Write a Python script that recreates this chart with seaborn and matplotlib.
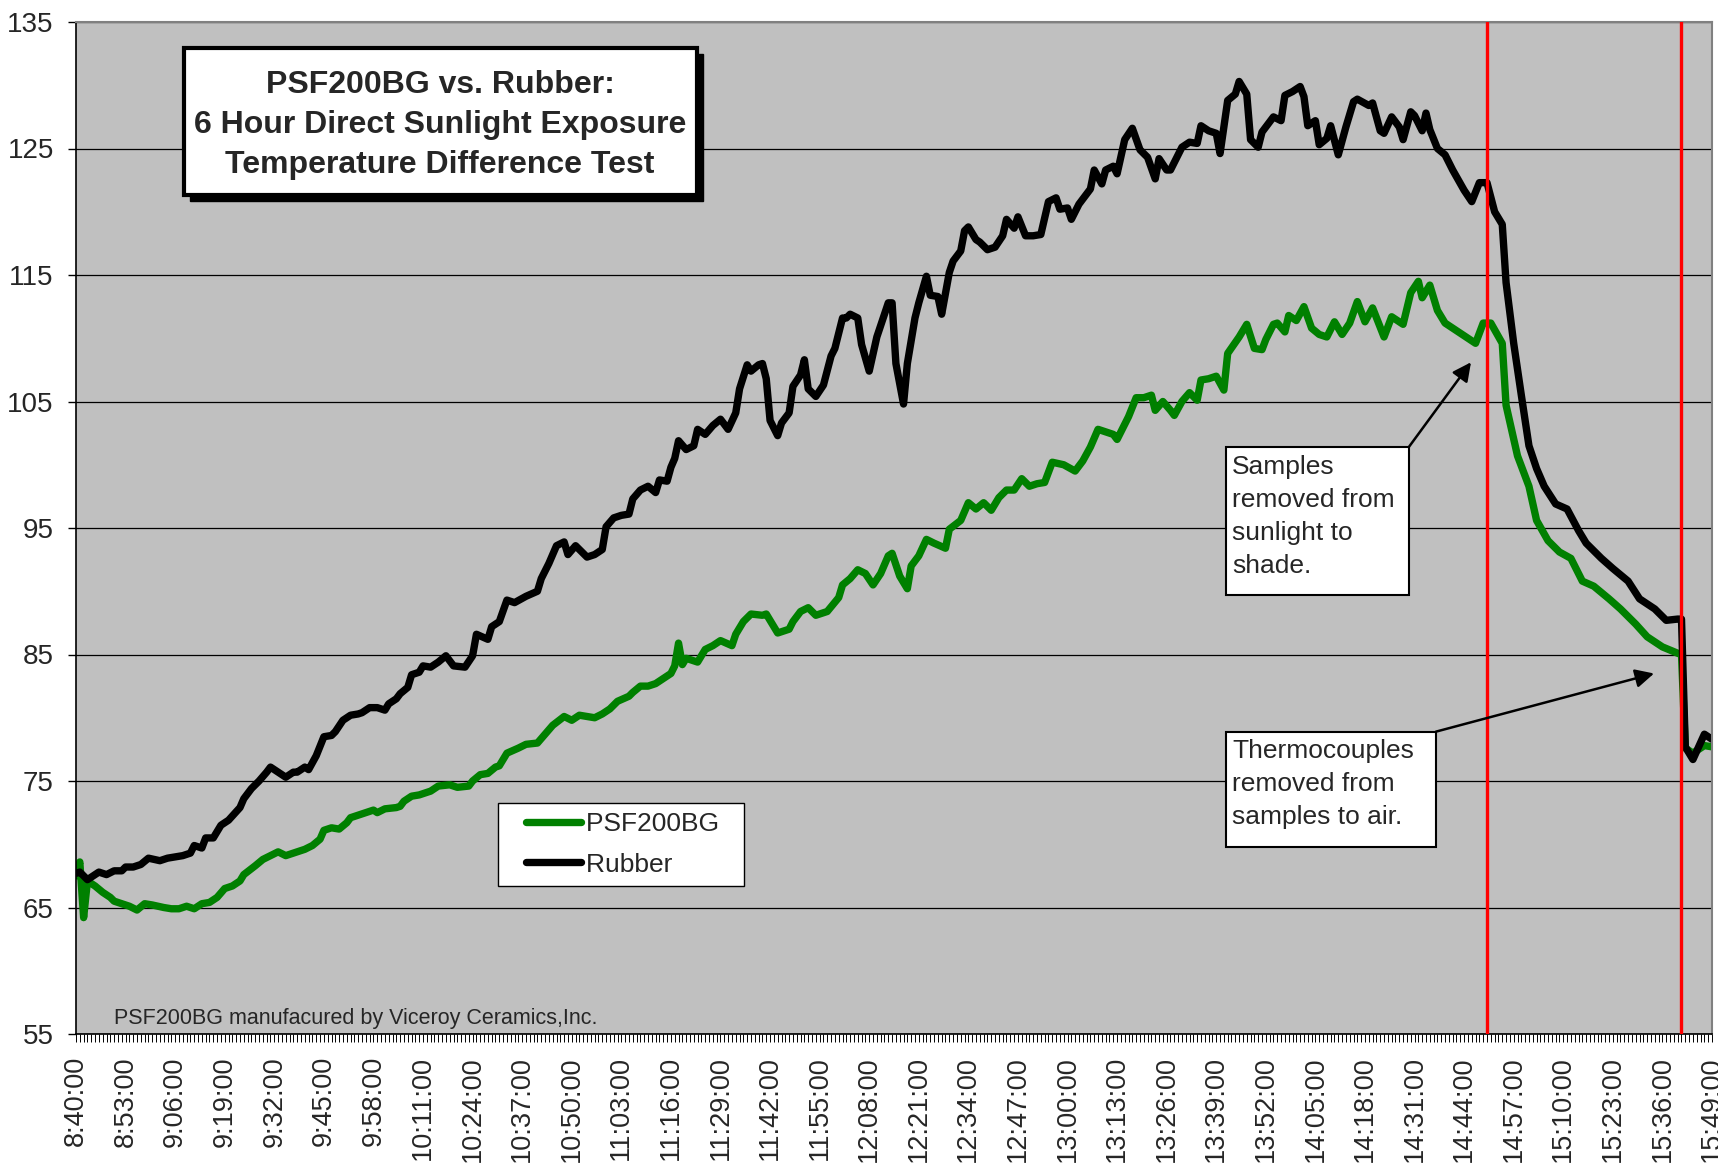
import matplotlib
matplotlib.use('Agg')
import matplotlib.pyplot as plt
from matplotlib.patches import Rectangle
from matplotlib.lines import Line2D
from matplotlib.ticker import MultipleLocator
from matplotlib.legend_handler import HandlerLine2D
import pandas as pd
import seaborn as sns

# readings, minutes after 8:40 -> temperature
rubber_min = [0, 1, 3, 5, 6, 8, 10, 12, 13, 15, 17, 19, 22, 24, 26, 28, 30, 31, 33, 34,
              36, 38, 40, 43, 44, 46, 48, 50, 51, 53, 55, 57, 58, 60, 61, 63, 65, 67, 68, 70,
              72, 74, 75, 77, 79, 81, 82, 84, 85, 87, 88, 90, 91, 93, 95, 97, 99, 102, 104, 105,
              108, 109, 111, 113, 115, 118, 121, 122, 124, 126, 128, 129, 131, 133, 134, 136, 138, 139, 141, 143,
              145, 146, 148, 150, 152, 153, 155, 156, 157, 158, 160, 162, 163, 165, 167, 169, 171, 173, 174, 176,
              177, 179, 180, 181, 182, 184, 185, 187, 188, 190, 191, 192, 194, 196, 198, 199, 201, 202, 203, 205,
              206, 208, 210, 212, 213, 214, 215, 217, 218, 220, 221, 223, 224, 226, 227, 229, 230, 232, 233, 234,
              236, 237, 239, 241, 243, 244, 246, 247, 249, 251, 253, 255, 257, 258, 260, 261, 263, 265, 266, 267,
              269, 270, 272, 273, 275, 277, 279, 281, 283, 284, 286, 287, 290, 292, 294, 295, 297, 299, 300, 301,
              302, 304, 305, 307, 308, 310, 311, 314, 316, 317, 319, 321, 322, 323, 325, 326, 328, 329, 331, 333,
              335, 336, 339, 340, 342, 343, 345, 347, 348, 350, 351, 353, 354, 355, 357, 359, 361, 364, 366, 368,
              370, 372, 374, 375, 377, 379, 381, 383, 385, 388, 391, 394, 396, 400, 403, 407, 410, 414, 417, 420,
              421, 422, 424, 427, 429]
rubber_temp = [67.7, 67.8, 67.2, 67.6, 67.8, 67.6, 67.9, 67.9, 68.2, 68.2, 68.4, 68.9, 68.7, 68.9, 69.0, 69.1, 69.3, 69.9, 69.7, 70.5,
               70.5, 71.5, 71.9, 72.9, 73.6, 74.4, 75.0, 75.7, 76.1, 75.7, 75.3, 75.7, 75.7, 76.1, 75.9, 77.0, 78.5, 78.6, 78.9, 79.8,
               80.2, 80.3, 80.4, 80.8, 80.8, 80.6, 81.1, 81.5, 81.9, 82.4, 83.4, 83.6, 84.1, 84.0, 84.4, 84.9, 84.1, 84.0, 84.9, 86.6,
               86.2, 87.2, 87.6, 89.3, 89.1, 89.6, 90.0, 91.0, 92.2, 93.6, 93.9, 92.9, 93.6, 93.0, 92.7, 92.9, 93.3, 95.1, 95.8, 96.0,
               96.1, 97.3, 98.0, 98.3, 97.8, 98.8, 98.7, 99.8, 100.5, 101.9, 101.2, 101.5, 102.8, 102.4, 103.1, 103.6, 102.8, 104.1, 106.0, 107.9,
               107.4, 107.9, 108.0, 106.8, 103.5, 102.3, 103.3, 104.1, 106.2, 107.1, 108.3, 106.0, 105.4, 106.3, 108.6, 109.2, 111.6, 111.6, 111.9, 111.6,
               109.5, 107.4, 110.1, 111.9, 112.8, 112.8, 108.0, 104.8, 108.0, 111.6, 112.8, 114.9, 113.4, 113.3, 111.9, 115.2, 116.1, 116.9, 118.5, 118.8,
               117.8, 117.6, 117.0, 117.2, 118.1, 119.4, 118.7, 119.6, 118.1, 118.1, 118.2, 120.8, 121.1, 120.2, 120.3, 119.4, 120.6, 121.4, 121.8, 123.3,
               122.2, 123.3, 123.6, 123.0, 125.7, 126.6, 124.9, 124.3, 122.6, 124.2, 123.3, 123.3, 125.1, 125.5, 125.4, 126.8, 126.4, 126.2, 124.6, 126.7,
               128.8, 129.3, 130.3, 129.3, 125.7, 125.1, 126.3, 127.5, 127.2, 129.2, 129.5, 129.9, 129.1, 126.8, 127.2, 125.3, 125.8, 126.8, 124.5, 126.7,
               128.7, 128.9, 128.4, 128.6, 126.4, 126.2, 127.5, 126.7, 125.7, 127.9, 127.6, 126.4, 127.8, 126.5, 125.0, 124.5, 123.3, 121.7, 120.8, 122.3,
               122.3, 120.0, 119.0, 114.4, 109.6, 105.5, 101.5, 99.7, 98.3, 96.9, 96.5, 94.8, 93.8, 92.6, 91.8, 90.8, 89.4, 88.6, 87.7, 87.8,
               87.8, 77.7, 76.7, 78.7, 78.3]

psf_min = [0, 1, 2, 3, 5, 7, 9, 10, 12, 14, 16, 18, 20, 23, 25, 27, 29, 31, 33, 35,
           37, 39, 41, 43, 44, 47, 49, 51, 53, 55, 58, 60, 62, 64, 65, 67, 69, 71, 72, 75,
           78, 79, 81, 84, 85, 86, 88, 90, 93, 95, 98, 100, 103, 104, 106, 108, 110, 111, 113, 116,
           118, 121, 123, 125, 128, 130, 132, 136, 138, 140, 142, 145, 146, 148, 150, 152, 154, 156, 157, 158,
           159, 160, 163, 165, 167, 169, 172, 173, 175, 177, 180, 181, 184, 187, 188, 190, 192, 194, 197, 200,
           201, 203, 205, 207, 209, 211, 213, 214, 216, 218, 219, 221, 223, 225, 228, 229, 232, 234, 236, 238,
           240, 242, 244, 246, 248, 250, 252, 254, 256, 259, 262, 264, 266, 268, 270, 272, 273, 276, 278, 280,
           282, 283, 285, 287, 288, 290, 292, 294, 295, 297, 299, 301, 302, 305, 307, 309, 311, 312, 314, 315,
           317, 318, 320, 322, 324, 326, 328, 330, 332, 334, 336, 338, 340, 343, 345, 348, 350, 352, 353, 355,
           357, 359, 361, 364, 367, 369, 371, 374, 375, 378, 381, 383, 386, 389, 392, 395, 398, 402, 405, 409,
           412, 416, 420, 421, 422, 424, 427, 429]
psf_temp = [67.5, 68.6, 64.2, 67.1, 66.7, 66.2, 65.8, 65.5, 65.3, 65.1, 64.8, 65.3, 65.2, 65.0, 64.9, 64.9, 65.1, 64.9, 65.3, 65.4,
            65.8, 66.5, 66.7, 67.1, 67.6, 68.3, 68.8, 69.1, 69.4, 69.1, 69.4, 69.6, 69.9, 70.4, 71.1, 71.3, 71.2, 71.7, 72.1, 72.4,
            72.7, 72.5, 72.8, 72.9, 73.0, 73.4, 73.8, 73.9, 74.2, 74.6, 74.7, 74.5, 74.6, 75.0, 75.5, 75.6, 76.1, 76.2, 77.2, 77.6,
            77.9, 78.0, 78.7, 79.4, 80.1, 79.8, 80.2, 80.0, 80.3, 80.7, 81.3, 81.7, 82.0, 82.5, 82.5, 82.7, 83.1, 83.5, 84.1, 85.9,
            84.2, 84.7, 84.4, 85.4, 85.7, 86.1, 85.7, 86.6, 87.6, 88.2, 88.1, 88.2, 86.7, 87.0, 87.6, 88.4, 88.7, 88.1, 88.4, 89.5,
            90.5, 91.0, 91.7, 91.4, 90.5, 91.4, 92.8, 93.0, 91.2, 90.2, 92.0, 92.8, 94.1, 93.8, 93.4, 94.9, 95.6, 97.0, 96.5, 97.0,
            96.4, 97.4, 98.0, 98.0, 98.9, 98.3, 98.5, 98.6, 100.2, 100.0, 99.5, 100.3, 101.4, 102.8, 102.6, 102.4, 102.0, 103.8, 105.3, 105.3,
            105.5, 104.3, 105.0, 104.3, 103.9, 105.0, 105.7, 105.1, 106.7, 106.8, 107.0, 105.9, 108.8, 110.1, 111.1, 109.2, 109.1, 109.9, 111.1, 111.2,
            110.5, 111.8, 111.4, 112.5, 110.8, 110.3, 110.1, 111.3, 110.3, 111.2, 112.9, 111.3, 112.4, 110.1, 111.7, 111.1, 113.6, 114.5, 113.2, 114.2,
            112.2, 111.2, 110.8, 110.2, 109.6, 111.2, 111.2, 109.6, 104.7, 100.7, 98.3, 95.6, 94.0, 93.1, 92.6, 90.8, 90.4, 89.4, 88.6, 87.4,
            86.4, 85.6, 85.1, 85.0, 77.6, 77.2, 77.8, 77.7]

tick_labels = ['8:40:00', '8:53:00', '9:06:00', '9:19:00', '9:32:00', '9:45:00', '9:58:00',
               '10:11:00', '10:24:00', '10:37:00', '10:50:00', '11:03:00', '11:16:00', '11:29:00',
               '11:42:00', '11:55:00', '12:08:00', '12:21:00', '12:34:00', '12:47:00', '13:00:00',
               '13:13:00', '13:26:00', '13:39:00', '13:52:00', '14:05:00', '14:18:00', '14:31:00',
               '14:44:00', '14:57:00', '15:10:00', '15:23:00', '15:36:00', '15:49:00']
event_min = [370, 421]   # red markers: out of the sun, thermocouples off

df = pd.concat([
    pd.DataFrame({'minute': psf_min, 'temp': psf_temp, 'series': 'PSF200BG'}),
    pd.DataFrame({'minute': rubber_min, 'temp': rubber_temp, 'series': 'Rubber'}),
])
colors = {'PSF200BG': '#008000', 'Rubber': '#000000'}
LW = 5.3

sns.set_style('ticks')
plt.rcParams['font.family'] = ['Liberation Sans', 'DejaVu Sans']

W, H = 1718, 1167
fig = plt.figure(figsize=(W / 100, H / 100), dpi=100)
ax = fig.add_axes([76 / W, 1 - 1034 / H, (1712 - 76) / W, (1034 - 22) / H])
ax.set_facecolor('#C0C0C0')

sns.lineplot(data=df, x='minute', y='temp', hue='series', hue_order=['PSF200BG', 'Rubber'],
             palette=colors, estimator=None, sort=False, legend=False, ax=ax)
for ln in ax.lines:
    ln.set_linewidth(LW)
    ln.set_solid_capstyle('round')
    ln.set_solid_joinstyle('round')

for m in event_min:
    ax.axvline(m, color='#FF0000', lw=2.4, zorder=5)

ax.set_xlim(0, 429)
ax.set_ylim(55, 135)
ax.set_yticks(range(55, 136, 10))
ax.set_xticks(range(0, 430, 13))
ax.set_xticklabels(tick_labels, rotation=90)
ax.xaxis.set_minor_locator(MultipleLocator(1))
ax.set_xlabel('')
ax.set_ylabel('')
ax.yaxis.grid(True, color='black', lw=0.9)
ax.set_axisbelow(True)
ax.tick_params(axis='x', which='both', length=6, width=0.7, color='black', labelsize=19.5, pad=10)
ax.tick_params(axis='y', length=6, width=1, color='black', labelsize=20, pad=10)
for s in ['left', 'bottom']:
    ax.spines[s].set_color('black')
    ax.spines[s].set_linewidth(1.2)
for s in ['top', 'right']:
    ax.spines[s].set_color('#808080')
    ax.spines[s].set_linewidth(1.5)

# legend
handles = [Line2D([], [], color=colors[k], lw=LW, solid_capstyle='round') for k in colors]
leg = ax.legend(handles, list(colors), loc='upper left', bbox_to_anchor=(498 / W, 1 - 803 / H),
                bbox_transform=fig.transFigure, frameon=True, fancybox=False, framealpha=1,
                edgecolor='black', fontsize=19, borderpad=0.35, labelspacing=0.62,
                handlelength=2.8, handletextpad=0.2, borderaxespad=0,
                handler_map={Line2D: HandlerLine2D(xpad=0.7)})
leg.get_frame().set_linewidth(1.0)
for t in leg.get_texts():
    t.set_text(t.get_text() + '  ')


def fig_box(x0, y0, x1, y1, lw, shadow=0):
    # pixel box (top-left origin) on the figure
    if shadow:
        fig.add_artist(Rectangle(((x0 + shadow) / W, 1 - (y1 + shadow) / H), (x1 - x0) / W, (y1 - y0) / H,
                                 transform=fig.transFigure, facecolor='black', edgecolor='black', zorder=10))
    fig.add_artist(Rectangle((x0 / W, 1 - y1 / H), (x1 - x0) / W, (y1 - y0) / H,
                             transform=fig.transFigure, facecolor='white', edgecolor='black', lw=lw, zorder=11))


# title box
fig_box(184, 48, 697, 195, lw=3, shadow=6)
for txt, yb in zip(['PSF200BG vs. Rubber:', '6 Hour Direct Sunlight Exposure', 'Temperature Difference Test'],
                   [93, 133, 173]):
    fig.text(440 / W, 1 - yb / H, txt, ha='center', va='baseline', fontsize=23, fontweight='bold', zorder=12)

# note boxes and arrows
fig_box(1226, 447, 1409, 595, lw=1.5)
for txt, yb in zip(['Samples', 'removed from', 'sunlight to', 'shade.'], [474, 507, 540, 573]):
    fig.text(1232 / W, 1 - yb / H, txt, ha='left', va='baseline', fontsize=19, zorder=12)
fig_box(1226, 732, 1436, 847, lw=1.5)
for txt, yb in zip(['Thermocouples', 'removed from', 'samples to air.'], [758, 791, 824]):
    fig.text(1232 / W, 1 - yb / H, txt, ha='left', va='baseline', fontsize=19, zorder=12)

arrow = dict(arrowstyle='-|>', color='black', lw=1.8, mutation_scale=28, shrinkA=0, shrinkB=0)
ax.annotate('', xy=(365.8, 108.1), xytext=(349.5, 101.4), arrowprops=arrow, zorder=9)
ax.annotate('', xy=(413.8, 83.5), xytext=(356.6, 78.9), arrowprops=arrow, zorder=9)

fig.text(114 / W, 1 - 1024 / H, 'PSF200BG manufacured by Viceroy Ceramics,Inc.', ha='left',
         va='baseline', fontsize=15.5, zorder=12)

fig.savefig('out.png', dpi=100, facecolor='white')
